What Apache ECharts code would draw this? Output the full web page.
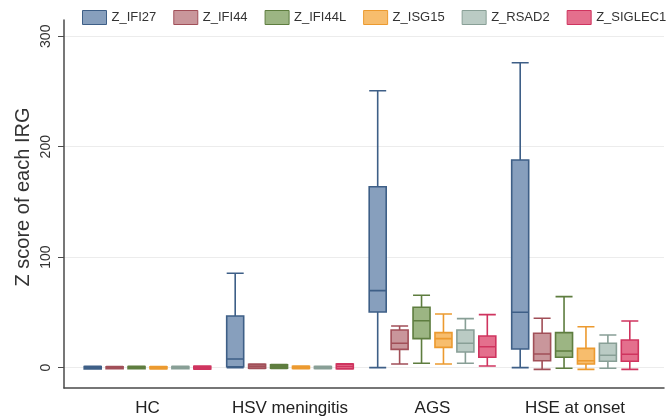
<!DOCTYPE html>
<html>
<head>
<meta charset="utf-8">
<script src="https://cdn.jsdelivr.net/npm/echarts@6/dist/echarts.min.js"></script>
<style>html,body{margin:0;padding:0;background:#fff}#c{width:666px;height:417px}</style>
</head>
<body>
<div id="c"></div>
<script>
// Data
const groups = ['HC', 'HSV meningitis', 'AGS', 'HSE at onset'];
const genes = ['Z_IFI27', 'Z_IFI44', 'Z_IFI44L', 'Z_ISG15', 'Z_RSAD2', 'Z_SIGLEC1'];
// each entry: [min, Q1, median, Q3, max] for HC, HSV meningitis, AGS, HSE at onset
const Z_IFI27 = [[-1.2, -1.1, 0, 1.1, 1.2], [0, 0.9, 7.9, 46.8, 85.4], [0, 50.4, 69.7, 163.8, 250.7], [0, 16.9, 50.1, 188, 276]];
const Z_IFI44 = [[-1, -0.9, 0, 0.9, 1], [-0.6, -0.4, 1.3, 3.0, 3.2], [3.3, 16.6, 22.1, 34.1, 37.7], [-1.5, 6.3, 12.4, 31.1, 44.7]];
const Z_IFI44L = [[-1, -0.9, 0, 1.1, 1.2], [-0.6, -0.4, 1.2, 2.6, 2.8], [4.0, 26.3, 42.5, 54.7, 65.5], [-0.5, 9.4, 15.1, 31.7, 64.3]];
const Z_ISG15 = [[-1.2, -1.0, 0, 0.9, 1], [-0.9, -0.7, 0.2, 1.3, 1.5], [3.3, 18.4, 26.3, 31.7, 48.6], [-1.5, 3.3, 6.3, 17.5, 37.1]];
const Z_RSAD2 = [[-1, -0.9, 0, 1.1, 1.2], [-0.9, -0.7, 0, 1.0, 1.2], [4.0, 14.2, 22.1, 34.1, 44.4], [-0.5, 5.8, 11.2, 22.1, 29.6]];
const Z_SIGLEC1 = [[-1.3, -1.2, 0, 1.3, 1.4], [-1.2, -1, 1, 3.2, 3.4], [1.5, 9.4, 19.0, 28.7, 48.0], [-1.5, 5.8, 12.1, 25.1, 42.3]];
const yTicks = [0, 100, 200, 300];
const yTitle = 'Z score of each IRG';

const seriesData = [Z_IFI27, Z_IFI44, Z_IFI44L, Z_ISG15, Z_RSAD2, Z_SIGLEC1];
const fills = ['#879FBD', '#C9969B', '#9CB583', '#F7BD6D', '#BACBC4', '#E46F8D'];
const borders = ['#3E5F87', '#A14F58', '#5E7D3F', '#EC9A2F', '#889F96', '#CF345F'];

const YMIN = -18.4, YMAX = 314.7;
const TOP = 20, BOTTOM = 29;
const BAND = 142.5, FIRST_CENTER = 147.5;
// fine slot layout: 13 slots per group, boxes on every 2nd slot
const SLOTS_PER_GROUP = 13;
const nSlots = SLOTS_PER_GROUP * groups.length;
const slotNames = Array.from({ length: nSlots }, (_, k) => 's' + k);

const grids = [
  { left: 64, right: 2, top: TOP, bottom: BOTTOM },
  { left: FIRST_CENTER - BAND / 2, width: BAND * groups.length, top: TOP, bottom: BOTTOM },
  { left: 64, right: 2, top: TOP, bottom: 43 }   // holds only the y-axis title
];
const xAxes = [{
  gridIndex: 0, type: 'value', min: 0, max: 1,
  axisLine: { show: true, onZero: false, lineStyle: { color: '#4a4a4a', width: 1.5 } },
  axisTick: { show: false }, axisLabel: { show: false }, splitLine: { show: false }
}, {
  gridIndex: 1, type: 'category', data: groups,
  axisLine: { show: false }, axisTick: { show: false },
  axisLabel: { interval: 0, margin: 12, fontSize: 17, color: '#222', fontFamily: 'Liberation Sans' }
}, { gridIndex: 2, type: 'value', show: false }];
const yAxes = [{
  gridIndex: 0, type: 'value', min: YMIN, max: YMAX,
  axisLine: { show: true, onZero: false, lineStyle: { color: '#4a4a4a', width: 1.5 } },
  axisTick: { show: true, length: 6, customValues: yTicks, lineStyle: { color: '#4a4a4a', width: 1 } },
  axisLabel: { show: true, customValues: yTicks, rotate: 90, margin: 11, fontSize: 14, color: '#333', fontFamily: 'Liberation Sans' },
  splitLine: { show: true, lineStyle: { color: '#ececec', width: 1 } }
}, { gridIndex: 1, type: 'value', min: YMIN, max: YMAX, show: false, splitLine: { show: false } },
{
  gridIndex: 2, type: 'value', min: 0, max: 1,
  name: yTitle, nameLocation: 'middle', nameGap: 31, nameRotate: 90,
  nameTextStyle: { fontSize: 20, color: '#333', fontFamily: 'Liberation Sans' },
  axisLine: { show: false }, axisTick: { show: false }, axisLabel: { show: false }, splitLine: { show: false }
}];

const series = [];
genes.forEach((g, i) => {
  const ax = xAxes.length;
  xAxes.push({ gridIndex: 1, type: 'category', data: slotNames, show: false });
  const padded = slotNames.map(() => '-');
  seriesData[i].forEach((box, gIdx) => { padded[1 + SLOTS_PER_GROUP * gIdx + 2 * i] = box; });
  series.push({
    name: g, type: 'boxplot', xAxisIndex: ax, yAxisIndex: 1,
    boxWidth: [17, 17],
    data: padded,
    itemStyle: { color: fills[i], borderColor: borders[i], borderWidth: 1.6 },
    emphasis: { disabled: true },
    silent: true
  });
});

const chart = echarts.init(document.getElementById('c'), null, { renderer: 'canvas' });
chart.setOption({
  animation: false,
  backgroundColor: '#ffffff',
  textStyle: { fontFamily: 'Liberation Sans' },
  legend: {
    left: 82, top: 10, padding: 0, width: 640, itemWidth: 24, itemHeight: 14, itemGap: 17,
    textStyle: { fontSize: 13, color: '#333', fontFamily: 'Liberation Sans' },
    data: genes.map((g, i) => ({ name: g, icon: 'rect', itemStyle: { color: fills[i], borderColor: borders[i], borderWidth: 1 } }))
  },
  grid: grids,
  xAxis: xAxes,
  yAxis: yAxes,
  series: series
});
</script>
</body>
</html>
